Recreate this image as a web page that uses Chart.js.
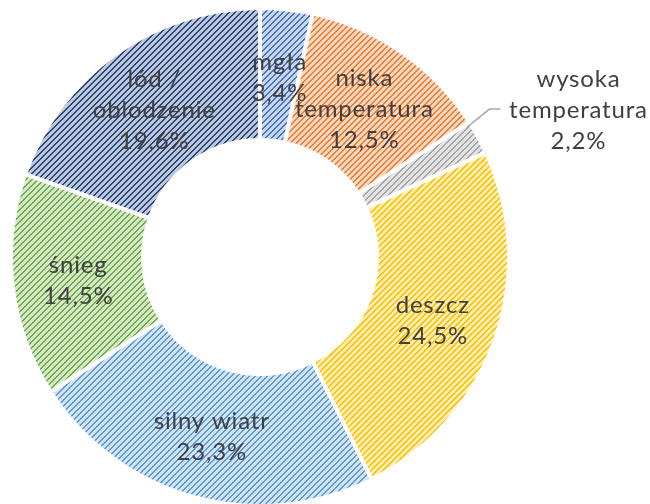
<!DOCTYPE html>
<html lang="pl">
<head>
<meta charset="utf-8">
<script src="https://cdn.jsdelivr.net/npm/chart.js@4.4.1/dist/chart.umd.min.js"></script>
<style>
  html, body { margin: 0; padding: 0; background: #fff; overflow: hidden; }
  #wrap { width: 650px; height: 504px; overflow: hidden; }
</style>
</head>
<body>
<div id="wrap"><canvas id="myChart" width="650" height="510"></canvas></div>
<script>
// categories, clockwise from 12 o'clock (each entry = label lines)
var categories = [['mgła'], ['niska', 'temperatura'], ['wysoka', 'temperatura'], ['deszcz'], ['silny wiatr'], ['śnieg'], ['lód /', 'oblodzenie']];
var shares = [3.4, 12.5, 2.2, 24.5, 23.3, 14.5, 19.6];
var stripeColors = ['#4472C4', '#ED7D31', '#A5A5A5', '#FFC000', '#5B9BD5', '#70AD47', '#264478'];
var paperColors = ['#C9D6EF', '#FAD6BF', '#E4E4E4', '#FFECB0', '#D2E3F4', '#D6E8CA', '#BCC6DA'];

var canvas = document.getElementById('myChart');
var ctx = canvas.getContext('2d');

// small diagonal "/" stripe tile, like Excel's wide upward diagonal
function hatch(fg, bg) {
  var tile = document.createElement('canvas');
  tile.width = 6;
  tile.height = 6;
  var t = tile.getContext('2d');
  t.fillStyle = bg;
  t.fillRect(0, 0, 6, 6);
  t.fillStyle = fg;
  for (var y = 0; y < 6; y++) {
    for (var x = 0; x < 6; x++) {
      var k = (x + y) % 6;
      if (k === 0 || k === 1) t.fillRect(x, y, 1, 1);
    }
  }
  return ctx.createPattern(tile, 'repeat');
}

function pct(v) {
  return v.toFixed(1).replace('.', ',') + '%';
}

var fills = [];
for (var i = 0; i < shares.length; i++) {
  fills.push(hatch(stripeColors[i], paperColors[i]));
}

var lineH = 31;

var sliceLabels = {
  id: 'sliceLabels',
  afterDatasetsDraw: function (chart) {
    var c = chart.ctx;
    var meta = chart.getDatasetMeta(0);
    c.save();
    c.font = '24px Lato';
    c.letterSpacing = '0.8px';
    c.fillStyle = '#404040';
    c.textAlign = 'center';
    c.textBaseline = 'middle';
    meta.data.forEach(function (arc, i) {
      var lines = categories[i].concat([pct(shares[i])]);
      var p = arc.getProps(['x', 'y', 'startAngle', 'endAngle', 'outerRadius'], true);
      var mid = (p.startAngle + p.endAngle) / 2;
      var cx, cy;
      if (p.endAngle - p.startAngle < 0.17) {
        // too thin: put it outside with a leader line
        var a1 = mid - 0.057, a2 = mid - 0.07;
        var sx = p.x + Math.cos(a1) * (p.outerRadius - 5);
        var sy = p.y + Math.sin(a1) * (p.outerRadius - 5);
        var ex = p.x + Math.cos(a2) * (p.outerRadius + 24);
        var ey = p.y + Math.sin(a2) * (p.outerRadius + 24);
        c.strokeStyle = '#A6A6A6';
        c.lineWidth = 1.5;
        c.beginPath();
        c.moveTo(sx, sy);
        c.lineTo(ex, ey);
        c.lineTo(ex + 11, ey);
        c.stroke();
        cx = ex + 89;
        cy = ey + 1;
      } else {
        var pos = arc.tooltipPosition(true);
        cx = pos.x;
        cy = pos.y + 3;
      }
      var top = cy - (lines.length - 1) * lineH / 2;
      for (var j = 0; j < lines.length; j++) {
        c.fillText(lines[j], cx, top + j * lineH);
      }
    });
    c.restore();
  }
};

var myChart = new Chart(ctx, {
  type: 'doughnut',
  data: {
    labels: categories,
    datasets: [{
      data: shares,
      backgroundColor: fills,
      borderColor: '#ffffff',
      borderWidth: 4,
      hoverOffset: 0,
      offset: 0
    }]
  },
  options: {
    responsive: false,
    animation: false,
    events: [],
    cutout: '47%',
    layout: { padding: { left: 9, top: 6, right: 139, bottom: 2 } },
    plugins: {
      legend: { display: false },
      tooltip: { enabled: false }
    }
  },
  plugins: [sliceLabels]
});
</script>
</body>
</html>
